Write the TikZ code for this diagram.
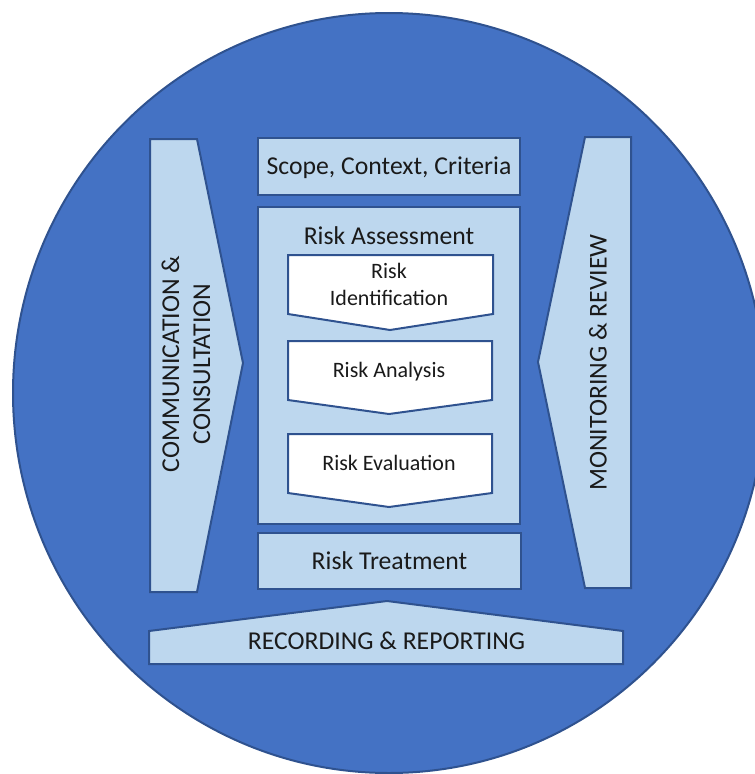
\documentclass[tikz,border=0pt]{standalone}
\usepackage{fontspec}
\setmainfont{Carlito}
\definecolor{cblue}{HTML}{4472C4}
\definecolor{cedge}{HTML}{2F528F}
\definecolor{clight}{HTML}{BDD7EE}
\definecolor{ctext}{HTML}{1A1A1A}
\begin{document}
\begin{tikzpicture}[x=1pt,y=-1pt,
  lightshape/.style={fill=clight,draw=cedge,line width=2pt,line join=miter},
  whiteshape/.style={fill=white,draw=cedge,line width=2pt,line join=miter},
  bigfont/.style={font=\fontsize{25.7}{31}\selectfont,text=ctext,align=center,inner sep=0pt},
  smallfont/.style={font=\fontsize{22}{27}\selectfont,text=ctext,align=center,inner sep=0pt},
  boxnode/.style={lightshape,rectangle,bigfont,text height=16.5pt,text depth=0pt}]
\useasboundingbox (0,0) rectangle (755,774);
\clip (0,0) rectangle (755,774);
% big circle
\path[fill=cblue,draw=cedge,line width=2pt] (389,393) ellipse [x radius=376, y radius=380];
% side arrows
\path[lightshape] (150,139) -- (197,139) -- (243,363) -- (197,592) -- (150,592) -- cycle;
\node[bigfont,rotate=90] (comm) at (186,364) {COMMUNICATION \&\\CONSULTATION};
\path[lightshape] (631,137) -- (585,137) -- (538,362) -- (585,588) -- (631,588) -- cycle;
\node[bigfont,rotate=90] (mon) at (598,362.5) {MONITORING \& REVIEW};
% bottom arrow
\path[lightshape] (149,631) -- (387,601) -- (623,631) -- (623,664) -- (149,664) -- cycle;
\node[bigfont,anchor=base] (rec) at (386.5,649) {RECORDING \& REPORTING};
% central boxes
\node[boxnode,minimum width=262pt,minimum height=57pt] (scope) at (389,166.5) {Scope, Context, Criteria};
\node[boxnode,minimum width=262pt,minimum height=317pt] (assess) at (389,365.5) {};
\node[bigfont,anchor=base] (assesstitle) at (389,244) {Risk Assessment};
\node[boxnode,minimum width=263pt,minimum height=56pt] (treat) at (389.5,561) {Risk Treatment};
% chevrons
\path[whiteshape] (288,255) -- (493,255) -- (493,314) -- (390,330) -- (288,314) -- cycle;
\node[smallfont] (ident) at (389,284) {Risk\\Identification};
\path[whiteshape] (288,341) -- (492,341) -- (492,400) -- (389,414) -- (288,400) -- cycle;
\node[smallfont,anchor=base] (anal) at (389,377) {Risk Analysis};
\path[whiteshape] (288,434) -- (492,434) -- (492,493) -- (389,507) -- (288,493) -- cycle;
\node[smallfont,anchor=base] (eval) at (389,470) {Risk Evaluation};
\end{tikzpicture}
\end{document}
